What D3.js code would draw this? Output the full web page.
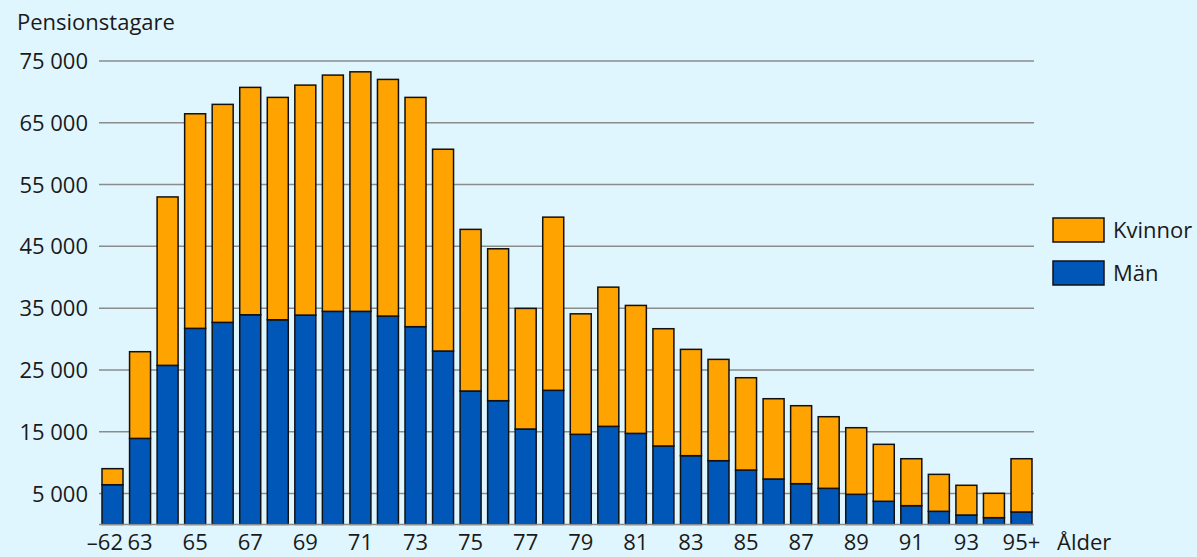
<!DOCTYPE html>
<html>
<head>
<meta charset="utf-8">
<script src="https://cdn.jsdelivr.net/npm/d3@7"></script>
<style>
  body { margin: 0; background: #e0f6fe; }
  svg { display: block; }
</style>
</head>
<body>
<div id="chart"></div>
<script>
// ages and series (number of pensioners per age)
const ages = ["–62", "63", "64", "65", "66", "67", "68", "69", "70", "71", "72", "73", "74", "75", "76", "77", "78",
  "79", "80", "81", "82", "83", "84", "85", "86", "87", "88", "89", "90", "91", "92", "93", "94", "95+"];
const man = [6420, 13920, 25740, 31730, 32700, 33930, 33120, 33880, 34480, 34480, 33720, 32000, 28060, 21590, 20020, 15440, 21700,
  14580, 15870, 14730, 12690, 11120, 10310, 8800, 7350, 6590, 5840, 4870, 3740, 3030, 2120, 1520, 1090, 2010];
const kvinnor = [2600, 14030, 27260, 34730, 35280, 36800, 35990, 37220, 38240, 38770, 38300, 37110, 32660, 26160, 24590, 19520, 28030,
  19500, 22530, 20710, 18980, 17210, 16400, 14940, 12990, 12620, 11590, 10780, 9220, 7600, 5980, 4810, 3940, 8620];
const yTicks = [5000, 15000, 25000, 35000, 45000, 55000, 65000, 75000];
const xLabels = ["–62", "63", "65", "67", "69", "71", "73", "75", "77", "79", "81", "83", "85", "87", "89", "91", "93", "95+"];
const series = ["Män", "Kvinnor"];
const colors = { "Män": "#0057b8", "Kvinnor": "#ffa300" };

const width = 1197, height = 557;
const font = "22px 'Open Sans', sans-serif";

const rows = ages.map((a, i) => ({ age: a, "Män": man[i], "Kvinnor": kvinnor[i] }));
const stacked = d3.stack().keys(series)(rows);

const x = d3.scaleBand()
  .domain(ages)
  .range([100, 1034])
  .paddingInner(0.238)
  .paddingOuter(0.073);

const y = d3.scaleLinear()
  .domain([0, 75000])
  .range([524.4, 61]);

const svg = d3.select("#chart")
  .append("svg")
  .attr("width", width)
  .attr("height", height)
  .style("background", "#e0f6fe");

const fmt = d => d3.format(",")(d).replace(/,/g, " ");

// gridlines
svg.append("g")
  .selectAll("line")
  .data(yTicks)
  .join("line")
    .attr("x1", 99)
    .attr("x2", 1034)
    .attr("y1", d => y(d))
    .attr("y2", d => y(d))
    .attr("stroke", "#8c8c8c")
    .attr("stroke-width", 1.5);

// y labels
svg.append("g")
  .style("font", font)
  .attr("fill", "#1a1a1a")
  .attr("text-anchor", "end")
  .selectAll("text")
  .data(yTicks)
  .join("text")
    .attr("x", 88)
    .attr("y", d => y(d) + 8)
    .text(fmt);

// bars
svg.append("g")
  .selectAll("g")
  .data(stacked)
  .join("g")
    .attr("fill", d => colors[d.key])
  .selectAll("rect")
  .data(d => d)
  .join("rect")
    .attr("x", d => x(d.data.age))
    .attr("width", x.bandwidth())
    .attr("y", d => y(d[1]))
    .attr("height", d => y(d[0]) - y(d[1]))
    .attr("stroke", "#111")
    .attr("stroke-width", 1.5);

// baseline
svg.append("line")
  .attr("x1", 99)
  .attr("x2", 1034)
  .attr("y1", y(0))
  .attr("y2", y(0))
  .attr("stroke", "#8c8c8c")
  .attr("stroke-width", 1.5);

// x labels (first one is right-aligned to its bar)
svg.append("g")
  .style("font", font)
  .attr("fill", "#1a1a1a")
  .selectAll("text")
  .data(xLabels)
  .join("text")
    .attr("text-anchor", (d, i) => i === 0 ? "end" : "middle")
    .attr("x", (d, i) => i === 0 ? x(d) + x.bandwidth() : x(d) + x.bandwidth() / 2)
    .attr("y", 550)
    .text(d => d);

svg.append("text")
  .attr("x", 1057)
  .attr("y", 550)
  .style("font", font)
  .attr("fill", "#1a1a1a")
  .text("Ålder");

svg.append("text")
  .attr("x", 17)
  .attr("y", 30)
  .style("font", font)
  .attr("fill", "#1a1a1a")
  .text("Pensionstagare");

// legend
const legend = svg.append("g")
  .selectAll("g")
  .data(["Kvinnor", "Män"])
  .join("g")
    .attr("transform", (d, i) => `translate(1053, ${218 + i * 43})`);

legend.append("rect")
  .attr("width", 51)
  .attr("height", 24)
  .attr("fill", d => colors[d])
  .attr("stroke", "#111")
  .attr("stroke-width", 1.5);

legend.append("text")
  .attr("x", 60)
  .attr("y", 20)
  .style("font", font)
  .attr("fill", "#1a1a1a")
  .text(d => d);
</script>
</body>
</html>
